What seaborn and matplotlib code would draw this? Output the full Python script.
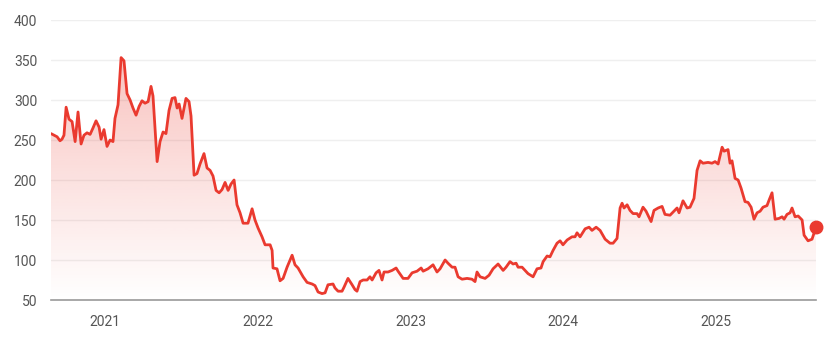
import numpy as np
import pandas as pd
import matplotlib
matplotlib.use("Agg")
import matplotlib.pyplot as plt
import seaborn as sns

# decimal-year time stamps and values
t_2020 = [2020.646, 2020.666, 2020.686, 2020.705, 2020.718, 2020.731, 2020.745, 2020.764,
          2020.784, 2020.804, 2020.823, 2020.843, 2020.862, 2020.882, 2020.902, 2020.921,
          2020.941, 2020.961, 2020.974, 2020.993]
v_2020 = [258, 256, 254, 249, 251, 256, 291, 276, 273, 248, 285, 245, 256, 259, 257, 265,
          274, 266, 251, 263]

t_2021 = [2021.013, 2021.033, 2021.052, 2021.065, 2021.085, 2021.105, 2021.124, 2021.144,
          2021.164, 2021.183, 2021.203, 2021.223, 2021.242, 2021.262, 2021.282, 2021.301,
          2021.314, 2021.341, 2021.360, 2021.380, 2021.399, 2021.419, 2021.439, 2021.458,
          2021.472, 2021.485, 2021.504, 2021.530, 2021.550, 2021.563, 2021.583, 2021.602,
          2021.622, 2021.648, 2021.668, 2021.688, 2021.707, 2021.727, 2021.747, 2021.766,
          2021.786, 2021.806, 2021.825, 2021.845, 2021.864, 2021.884, 2021.904, 2021.936,
          2021.963, 2021.982]
v_2021 = [242, 250, 248, 277, 294, 353, 349, 308, 300, 290, 281, 292, 299, 296, 298, 317,
          305, 223, 248, 260, 258, 287, 302, 303, 290, 295, 277, 302, 298, 280, 206, 208,
          220, 233, 215, 212, 205, 187, 184, 188, 197, 187, 195, 200, 169, 159, 146, 146,
          164, 150]

t_2022 = [2022.002, 2022.028, 2022.048, 2022.081, 2022.094, 2022.100, 2022.126, 2022.146,
          2022.166, 2022.192, 2022.212, 2022.225, 2022.244, 2022.264, 2022.297, 2022.323,
          2022.356, 2022.375, 2022.395, 2022.421, 2022.441, 2022.460, 2022.493, 2022.506,
          2022.526, 2022.552, 2022.565, 2022.591, 2022.618, 2022.637, 2022.650, 2022.670,
          2022.690, 2022.716, 2022.735, 2022.749, 2022.775, 2022.794, 2022.814, 2022.827,
          2022.853, 2022.880, 2022.906, 2022.919, 2022.952, 2022.984]
v_2022 = [140, 129, 119, 119, 112, 90, 89, 74, 77, 91, 100, 106, 94, 90, 79, 72,
          70, 68, 60, 58, 59, 69, 70, 65, 61, 61, 66, 77, 69, 63, 61, 73,
          75, 75, 79, 75, 84, 87, 75, 85, 85, 87, 90, 86, 77, 77]

t_2023 = [2023.011, 2023.043, 2023.070, 2023.083, 2023.115, 2023.148, 2023.174, 2023.194,
          2023.227, 2023.246, 2023.273, 2023.292, 2023.312, 2023.338, 2023.371, 2023.403,
          2023.423, 2023.436, 2023.456, 2023.489, 2023.515, 2023.541, 2023.574, 2023.607,
          2023.626, 2023.652, 2023.672, 2023.692, 2023.705, 2023.731, 2023.751, 2023.770,
          2023.803, 2023.829, 2023.855, 2023.869, 2023.895, 2023.914, 2023.934, 2023.960,
          2023.980, 2023.999]
v_2023 = [84, 86, 90, 86, 89, 94, 85, 89, 100, 96, 91, 91, 79, 76, 77, 76,
          73, 85, 79, 77, 81, 89, 95, 87, 91, 98, 95, 96, 91, 91, 87, 83,
          79, 89, 90, 98, 105, 104, 112, 121, 124, 119]

t_2024 = [2024.026, 2024.058, 2024.078, 2024.091, 2024.111, 2024.144, 2024.170, 2024.189,
          2024.216, 2024.242, 2024.275, 2024.307, 2024.327, 2024.353, 2024.373, 2024.386,
          2024.399, 2024.419, 2024.438, 2024.458, 2024.484, 2024.497, 2024.523, 2024.543,
          2024.576, 2024.595, 2024.622, 2024.648, 2024.667, 2024.700, 2024.720, 2024.746,
          2024.759, 2024.785, 2024.812, 2024.831, 2024.857, 2024.877, 2024.897, 2024.916,
          2024.949, 2024.975, 2024.995]
v_2024 = [125, 129, 129, 134, 129, 139, 141, 137, 141, 137, 126, 121, 121, 127, 165, 171,
          165, 169, 162, 158, 158, 154, 166, 161, 148, 162, 165, 167, 157, 156, 160, 165,
          159, 174, 165, 166, 177, 212, 224, 221, 222, 221, 223]

t_2025 = [2025.015, 2025.041, 2025.054, 2025.080, 2025.093, 2025.106, 2025.126, 2025.146,
          2025.165, 2025.191, 2025.211, 2025.231, 2025.250, 2025.270, 2025.290, 2025.309,
          2025.335, 2025.349, 2025.368, 2025.388, 2025.414, 2025.434, 2025.447, 2025.466,
          2025.486, 2025.499, 2025.519, 2025.539, 2025.565, 2025.578, 2025.604, 2025.630,
          2025.656]
v_2025 = [220, 241, 236, 238, 221, 224, 202, 200, 190, 173, 172, 166, 151, 159, 161, 166,
          168, 175, 184, 151, 152, 154, 151, 157, 159, 165, 154, 155, 150, 131, 124, 126,
          141]

year_ticks = [2021, 2022, 2023, 2024, 2025]
year_labels = ["2021", "2022", "2023", "2024", "2025"]
y_ticks = [50, 100, 150, 200, 250, 300, 350, 400]

df = pd.DataFrame({
    "t": t_2020 + t_2021 + t_2022 + t_2023 + t_2024 + t_2025,
    "v": v_2020 + v_2021 + v_2022 + v_2023 + v_2024 + v_2025,
})

LINE = "#ea3a2f"
sns.set_style("white")
plt.rcParams["font.family"] = ["Roboto", "DejaVu Sans"]

fig = plt.figure(figsize=(8.28, 3.42), dpi=100)
ax = fig.add_axes([51 / 828, 42 / 342, (816 - 51) / 828, 280 / 342])

ymin, ymax = 50, 400
xmin, xmax = df["t"].iloc[0], df["t"].iloc[-1]

# gradient fill under the line
grad = np.linspace(0, 1, 256).reshape(-1, 1)
rgba = np.zeros((256, 1, 4))
rgb = matplotlib.colors.to_rgb(LINE)
rgba[..., 0], rgba[..., 1], rgba[..., 2] = rgb
rgba[..., 3] = 0.30 * np.clip((grad[:, 0:1] * (ymax - ymin) + ymin - 50) / 300, 0, 1)
img = ax.imshow(rgba, origin="lower", aspect="auto",
                extent=[xmin, xmax, ymin, ymax], zorder=1)
poly = ax.fill_between(df["t"], df["v"], ymin, color="none", lw=0)
path = poly.get_paths()[0]
img.set_clip_path(path, transform=ax.transData)

sns.lineplot(data=df, x="t", y="v", ax=ax, color=LINE, lw=2.0, zorder=3,
             solid_joinstyle="round", solid_capstyle="round")
ax.plot(df["t"].iloc[-1], df["v"].iloc[-1], "o", color=LINE, ms=9, zorder=4,
        clip_on=False)

ax.set_xlim(xmin, xmax)
ax.set_ylim(ymin, ymax)
ax.set_yticks(y_ticks)
ax.set_xticks(year_ticks)
ax.set_xticklabels(year_labels)
ax.set_xlabel("")
ax.set_ylabel("")
for yv in y_ticks[1:]:
    ax.axhline(yv, color="#efefef", lw=1, zorder=0)

for s in ["top", "right", "left"]:
    ax.spines[s].set_visible(False)
ax.spines["bottom"].set_color("#9a9a9a")
ax.spines["bottom"].set_linewidth(1.2)
ax.tick_params(axis="y", length=0, pad=10, labelsize=10, labelcolor="#555555")
ax.tick_params(axis="x", length=5, width=2, color="#666666", pad=6,
               labelsize=10, labelcolor="#555555")

fig.savefig("out.png", dpi=100)
